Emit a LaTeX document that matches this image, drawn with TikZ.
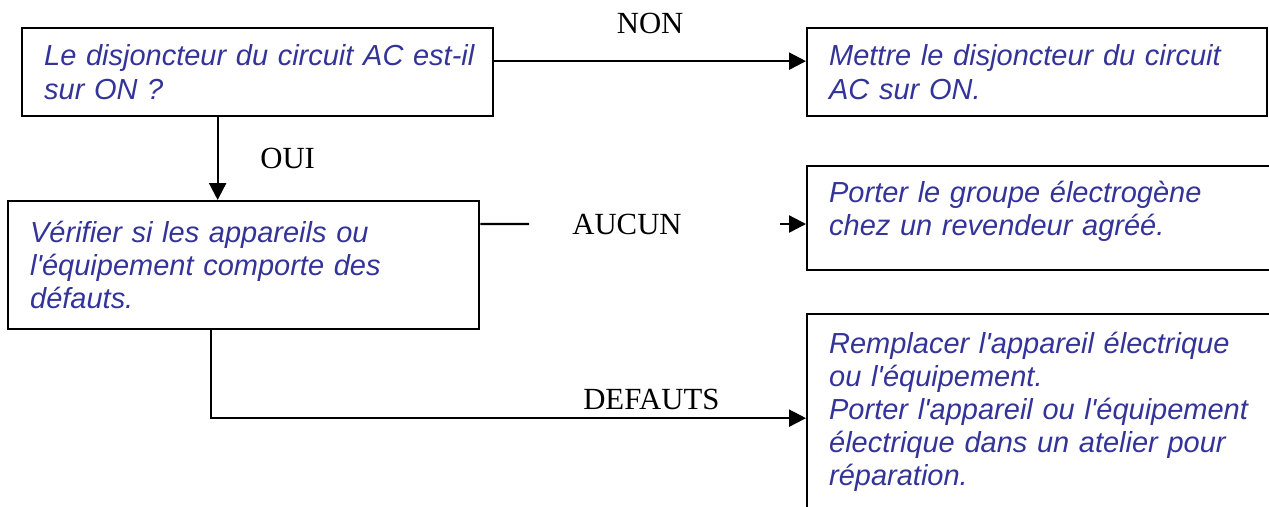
\documentclass[tikz,border=0pt]{standalone}
\usepackage{fontspec}
\setmainfont{Liberation Serif}
\newfontfamily\boxfont{Liberation Sans}[Ligatures=TeXOff]
\usetikzlibrary{positioning,arrows.meta,calc}
\definecolor{txtblue}{RGB}{51,51,153}

\begin{document}
\begin{tikzpicture}[>=Latex,
    box/.style={draw, rectangle, line width=1.3pt, anchor=north west, align=left,
      text=txtblue, inner xsep=0.44cm, font=\boxfont\itshape\fontsize{16.5}{18.8}\selectfont},
    lbl/.style={font=\fontsize{17.5}{20}\selectfont},
    arr/.style={-{Triangle[length=3.4mm,width=3.4mm]}, line width=1.3pt}]
  \useasboundingbox (0,0) rectangle (25.38,-10.12);
  \clip (0,0) rectangle (25.38,-10.12);

  \node[box, text width=8.54cm, minimum height=1.76cm] (A) at (0.42,-0.54)
    {\mbox{Le disjoncteur du circuit AC est-il}\\ sur ON ?};
  \node[box, text width=8.32cm, minimum height=1.76cm] (B) at (16.12,-0.54)
    {Mettre le disjoncteur du circuit\\ AC sur ON.};
  \node[box, text width=8.54cm, minimum height=2.56cm] (C) at (0.14,-4.0)
    {V\'erifier si les appareils ou\\ l'\'equipement comporte des\\ d\'efauts.};
  \node[box, text width=8.62cm, minimum height=2.08cm] (D) at (16.12,-3.3)
    {Porter le groupe \'electrog\`ene\\ chez un revendeur agr\'e\'e.\rule[-0.38cm]{0pt}{0.38cm}};
  \node[box, text width=8.62cm, minimum height=3.9cm] (E) at (16.12,-6.26)
    {Remplacer l'appareil \'electrique\\ ou l'\'equipement.\\ Porter l'appareil ou l'\'equipement\\ \'electrique dans un atelier pour\\ r\'eparation.};

  \draw[arr] ([yshift=0.22cm]A.east) -- ([yshift=0.22cm]A.east -| B.west)
    node[lbl, midway, yshift=0.76cm] (non) {NON};
  \draw[arr] ([xshift=-0.8cm]A.south) -- ([xshift=-0.8cm]A.south |- C.north)
    node[lbl, midway, xshift=1.4cm] (oui) {OUI};

  \node[lbl] (aucun) at (12.54,-4.48) {AUCUN};
  \coordinate[left=0.74cm of aucun.west] (cstop);
  \coordinate[right=1.84cm of aucun.east] (dstart);
  \draw[line width=1.3pt] ([yshift=-0.48cm]C.north east) -- (cstop);
  \draw[arr] (dstart) -- (dstart -| D.west);

  \draw[arr] ([xshift=-0.65cm]C.south) |- ([yshift=-0.13cm]E.west)
    node[lbl, pos=0.87, yshift=0.38cm] (defauts) {DEFAUTS};
\end{tikzpicture}
\end{document}
